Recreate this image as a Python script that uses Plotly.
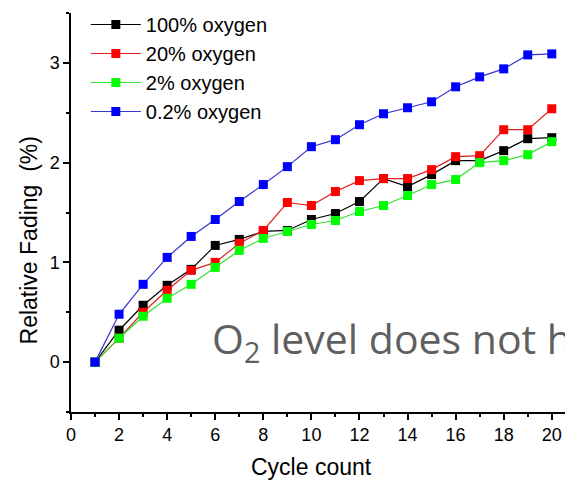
import plotly.graph_objects as go

cycles = list(range(1, 21))
o2_100 = [0, 0.32, 0.57, 0.77, 0.93, 1.17, 1.23, 1.31, 1.32, 1.43, 1.49, 1.61, 1.84, 1.76, 1.88, 2.02, 2.02, 2.12, 2.24, 2.25]
o2_20 = [0, 0.24, 0.50, 0.72, 0.92, 1.00, 1.19, 1.32, 1.60, 1.57, 1.71, 1.82, 1.84, 1.84, 1.93, 2.06, 2.07, 2.33, 2.33, 2.54]
o2_2 = [0, 0.24, 0.46, 0.64, 0.78, 0.95, 1.12, 1.24, 1.31, 1.38, 1.42, 1.51, 1.57, 1.67, 1.78, 1.83, 2.00, 2.02, 2.08, 2.21]
o2_02 = [0, 0.48, 0.78, 1.05, 1.26, 1.43, 1.61, 1.78, 1.96, 2.16, 2.23, 2.38, 2.49, 2.55, 2.61, 2.76, 2.86, 2.94, 3.08, 3.09]

names = ["100% oxygen", "20% oxygen", "2% oxygen", "0.2% oxygen"]
series = [o2_100, o2_20, o2_2, o2_02]
line_colors = ["#000000", "#e02020", "#30e030", "#3535d0"]
marker_colors = ["#000000", "#ff0000", "#00ff00", "#0000ff"]

FONT = "Liberation Sans, Arial, sans-serif"

fig = go.Figure()
for n, s, lc, mc in zip(names, series, line_colors, marker_colors):
    fig.add_trace(go.Scatter(
        x=cycles, y=s, name=n, mode="lines+markers",
        line=dict(color=lc, width=1.2),
        marker=dict(symbol="square", size=9, color=mc, line=dict(width=0)),
    ))

fig.update_layout(
    width=565, height=481, autosize=False,
    margin=dict(l=71, r=0, t=13, b=69),
    plot_bgcolor="white", paper_bgcolor="white",
    font=dict(family=FONT, size=18, color="black"),
    showlegend=True,
    legend=dict(
        x=0.03, y=1.02, xanchor="left", yanchor="top",
        bgcolor="rgba(0,0,0,0)", font=dict(family=FONT, size=20, color="black"),
        tracegroupgap=0, itemwidth=50,
    ),
    xaxis=dict(
        range=[0, 20.55], showgrid=False, zeroline=False,
        showline=True, linecolor="black", linewidth=1.5,
        ticks="outside", ticklen=6, tickwidth=1.5, tickcolor="black",
        tickvals=list(range(0, 21, 2)),
        minor=dict(ticks="outside", dtick=1, ticklen=3, tickwidth=1.5, tickcolor="black"),
        tickfont=dict(family=FONT, size=18, color="black"),
    ),
    yaxis=dict(
        range=[-0.5, 3.5], showgrid=False, zeroline=False,
        showline=True, linecolor="black", linewidth=1.5,
        ticks="outside", ticklen=6, tickwidth=1.5, tickcolor="black",
        tickvals=[0, 1, 2, 3],
        minor=dict(ticks="outside", dtick=0.5, ticklen=3, tickwidth=1.5, tickcolor="black"),
        tickfont=dict(family=FONT, size=18, color="black"),
    ),
    annotations=[
        dict(text="Relative Fading  (%)", textangle=-90, xref="paper", yref="paper",
             x=-0.085, y=0.43, xanchor="center", yanchor="middle", showarrow=False,
             font=dict(family=FONT, size=23, color="black")),
        dict(text="Cycle count", xref="paper", yref="paper",
             x=0.487, y=-0.138, xanchor="center", yanchor="middle", showarrow=False,
             font=dict(family=FONT, size=23, color="black")),
        dict(text="O<sub>2</sub> level does not h", xref="x", yref="y",
             x=5.8, y=0.22, xanchor="left", yanchor="middle", showarrow=False,
             font=dict(family="Open Sans, sans-serif", size=41, color="#5f5f5f")),
    ],
)

fig.write_html("out.html")
